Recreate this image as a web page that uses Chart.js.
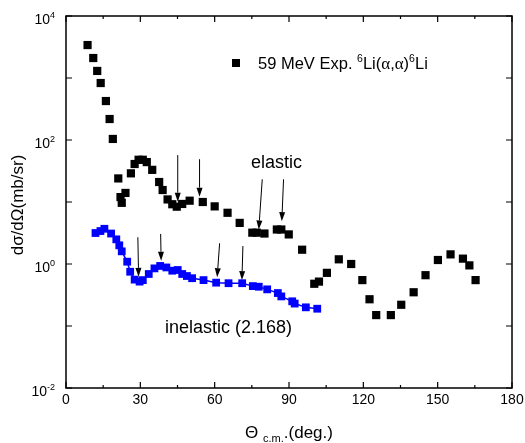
<!DOCTYPE html>
<html>
<head>
<meta charset="utf-8">
<script src="https://cdn.jsdelivr.net/npm/chart.js@4.4.1/dist/chart.umd.min.js"></script>
<style>
  html, body { margin: 0; padding: 0; background: #fff; }
  #wrap { width: 525px; height: 443px; }
</style>
</head>
<body>
<div id="wrap"><canvas id="xsChart" width="525" height="443"></canvas></div>
<script>
// elastic 59 MeV 6Li(a,a)6Li
const angleEl = [8.7, 11.0, 12.6, 14.0, 16.1, 17.6, 18.9, 21.1, 22.0, 22.5, 24.0, 26.2, 27.7, 29.3, 31.0, 32.6,
  34.8, 37.6, 39.0, 41.0, 42.9, 44.7, 46.9, 49.9, 55.2, 60.0, 65.2, 70.1, 75.2, 77.0, 80.1, 85.1, 86.9, 89.9,
  95.3, 100.2, 102.1, 105.3, 110.1, 115.1, 119.6, 122.5, 125.2, 131.1, 135.3, 140.3, 145.1, 150.1, 155.2,
  160.2, 162.8, 165.3];
const sigmaEl = [3400, 2100, 1300, 830, 425, 218, 104, 24, 12, 9.7, 14, 29, 41, 48, 48, 44,
  33, 21, 15.6, 11, 9.2, 8.4, 9.3, 10.5, 10, 8.5, 6.7, 4.6, 3.2, 3.2, 3.1, 3.6, 3.6, 3.0,
  1.7, 0.48, 0.52, 0.72, 1.19, 1.0, 0.55, 0.27, 0.15, 0.15, 0.22, 0.35, 0.66, 1.16, 1.43,
  1.22, 0.95, 0.55];

// inelastic (2.168)
const angleIn = [11.9, 13.9, 15.5, 18.2, 20.3, 21.5, 22.5, 24.7, 25.9, 27.7, 29.7, 31.0, 33.4, 35.7, 38.0,
  40.5, 42.9, 45.1, 46.9, 48.8, 50.9, 55.5, 60.6, 65.6, 71.1, 75.4, 77.8, 81.2, 85.5, 86.9, 91.3, 92.3,
  96.8, 101.4];
const sigmaIn = [3.16, 3.4, 3.7, 3.1, 2.5, 2.0, 1.6, 1.09, 0.75, 0.56, 0.52, 0.55, 0.69, 0.85, 0.93,
  0.88, 0.78, 0.80, 0.69, 0.64, 0.59, 0.55, 0.50, 0.49, 0.49, 0.44, 0.43, 0.39, 0.34, 0.30, 0.25, 0.23,
  0.20, 0.19];

// arrows (angle at top / bottom, value at top / bottom)
const arrowTopAngle = [45.1, 53.9, 79.2, 87.8, 29.0, 38.2, 62.0, 71.4];
const arrowTipAngle = [45.1, 53.9, 77.8, 87.1, 29.3, 38.4, 61.0, 71.0];
const arrowTopValue = [57, 49, 23.2, 23.2, 2.7, 3.05, 2.16, 1.95];
const arrowTipValue = [10.1, 12.2, 3.6, 4.9, 0.62, 1.13, 0.61, 0.55];

const xTicks = [0, 30, 60, 90, 120, 150, 180];
const yExponents = [-2, 0, 2, 4];

const FONT = 'Arial, "Liberation Sans", sans-serif';
const SERIF = '"Liberation Serif", "Times New Roman", serif';

function toPoints(xs, ys) {
  return xs.map((x, i) => ({ x: x, y: ys[i] }));
}

function drawSup(ctx, base, sup, x, y, size, align) {
  ctx.font = size + 'px ' + FONT;
  const wb = ctx.measureText(base).width;
  ctx.font = Math.round(size * 0.65) + 'px ' + FONT;
  const ws = ctx.measureText(sup).width;
  let start = x;
  if (align === 'right') start = x - wb - ws;
  if (align === 'center') start = x - (wb + ws) / 2;
  ctx.textAlign = 'left';
  ctx.textBaseline = 'alphabetic';
  ctx.font = size + 'px ' + FONT;
  ctx.fillText(base, start, y);
  ctx.font = Math.round(size * 0.65) + 'px ' + FONT;
  ctx.fillText(sup, start + wb, y - size * 0.4);
}

// draws a run of [text, size, dy, family] pieces from x
function drawRun(ctx, parts, x, y) {
  ctx.textAlign = 'left';
  ctx.textBaseline = 'alphabetic';
  parts.forEach(p => {
    ctx.font = p[1] + 'px ' + (p[3] || FONT);
    ctx.fillText(p[0], x, y + p[2]);
    x += ctx.measureText(p[0]).width;
  });
  return x;
}

function runWidth(ctx, parts) {
  let w = 0;
  parts.forEach(p => { ctx.font = p[1] + 'px ' + (p[3] || FONT); w += ctx.measureText(p[0]).width; });
  return w;
}

const decor = {
  id: 'decor',
  afterDraw(chart) {
    const ctx = chart.ctx;
    const a = chart.chartArea;
    const xs = chart.scales.x, ys = chart.scales.y;
    ctx.save();
    ctx.strokeStyle = '#000';
    ctx.fillStyle = '#000';

    // frame
    ctx.lineWidth = 1.5;
    ctx.strokeRect(a.left, a.top, a.right - a.left, a.bottom - a.top);

    // x ticks (inward, bottom and top)
    ctx.lineWidth = 1.2;
    for (let v = 0; v <= 180; v += 15) {
      const px = xs.getPixelForValue(v);
      const len = v % 30 === 0 ? 6 : 3;
      ctx.beginPath();
      ctx.moveTo(px, a.bottom); ctx.lineTo(px, a.bottom - len);
      ctx.moveTo(px, a.top); ctx.lineTo(px, a.top + len);
      ctx.stroke();
    }
    // y ticks (each decade)
    for (let e = -2; e <= 4; e++) {
      const py = ys.getPixelForValue(Math.pow(10, e));
      ctx.beginPath();
      ctx.moveTo(a.left, py); ctx.lineTo(a.left + 6, py);
      ctx.moveTo(a.right, py); ctx.lineTo(a.right - 6, py);
      ctx.stroke();
    }

    // tick labels
    ctx.font = '14px ' + FONT;
    ctx.textAlign = 'center';
    ctx.textBaseline = 'middle';
    xTicks.forEach(v => ctx.fillText(String(v), xs.getPixelForValue(v), a.bottom + 12));
    yExponents.forEach(e => {
      const py = ys.getPixelForValue(Math.pow(10, e));
      drawSup(ctx, '10', String(e), a.left - 11, py + 8, 14, 'right');
    });

    // y title
    ctx.save();
    ctx.translate(18, 205);
    ctx.rotate(-Math.PI / 2);
    ctx.font = '17px ' + FONT;
    ctx.textAlign = 'center';
    ctx.textBaseline = 'middle';
    ctx.fillText('d\u03c3/d\u03a9(mb/sr)', 0, 0);
    ctx.restore();

    // x title: Θ c.m..(deg.)
    {
      const parts = [['\u0398 ', 17, 0], ['c.m.', 11, 4], ['.(deg.)', 17, 0]];
      const w = runWidth(ctx, parts);
      drawRun(ctx, parts, (a.left + a.right) / 2 - w / 2, 438);
    }

    // legend
    ctx.fillRect(232, 59, 8, 8);
    drawRun(ctx, [
      ['59 MeV Exp. ', 16.5, 0], ['6', 10.5, -7], ['Li(', 16.5, 0], ['\u03b1', 17, 0, SERIF],
      [',', 16.5, 0], ['\u03b1', 17, 0, SERIF], [')', 16.5, 0], ['6', 10.5, -7], ['Li', 16.5, 0]
    ], 258, 69);

    // curve labels
    ctx.font = '18px ' + FONT;
    ctx.textAlign = 'left';
    ctx.textBaseline = 'middle';
    ctx.fillText('elastic', 251, 163);
    ctx.fillText('inelastic (2.168)', 165, 328);

    // arrows
    ctx.lineWidth = 1;
    arrowTopAngle.forEach((t, i) => {
      const x1 = xs.getPixelForValue(t), y1 = ys.getPixelForValue(arrowTopValue[i]);
      const x2 = xs.getPixelForValue(arrowTipAngle[i]), y2 = ys.getPixelForValue(arrowTipValue[i]);
      const ang = Math.atan2(y2 - y1, x2 - x1);
      const hl = 9, hw = 3;
      const bx = x2 - hl * Math.cos(ang), by = y2 - hl * Math.sin(ang);
      ctx.beginPath();
      ctx.moveTo(x1, y1); ctx.lineTo(bx, by);
      ctx.stroke();
      ctx.beginPath();
      ctx.moveTo(x2, y2);
      ctx.lineTo(bx + hw * Math.sin(ang), by - hw * Math.cos(ang));
      ctx.lineTo(bx - hw * Math.sin(ang), by + hw * Math.cos(ang));
      ctx.closePath();
      ctx.fill();
    });

    ctx.restore();
  }
};

const ctx = document.getElementById('xsChart').getContext('2d');
new Chart(ctx, {
  type: 'scatter',
  data: {
    datasets: [
      {
        label: 'inelastic (2.168)',
        data: toPoints(angleIn, sigmaIn),
        showLine: true,
        borderColor: '#0000ff',
        borderWidth: 1.5,
        backgroundColor: '#0000ff',
        pointStyle: 'rect',
        pointRadius: 5.5,
        pointBorderWidth: 0,
        pointHoverRadius: 5.5
      },
      {
        label: '59 MeV Exp. 6Li(a,a)6Li',
        data: toPoints(angleEl, sigmaEl),
        backgroundColor: '#000',
        borderColor: '#000',
        pointStyle: 'rect',
        pointRadius: 5.8,
        pointBorderWidth: 0,
        pointHoverRadius: 5.8
      }
    ]
  },
  options: {
    responsive: false,
    animation: false,
    layout: { padding: { top: 16, right: 13, left: 0, bottom: 0 } },
    plugins: { legend: { display: false }, tooltip: { enabled: false } },
    scales: {
      x: {
        type: 'linear', min: 0, max: 180,
        ticks: { display: false }, grid: { display: false }, border: { display: false },
        afterFit: s => { s.height = 55; }
      },
      y: {
        type: 'logarithmic', min: 0.01, max: 10000,
        ticks: { display: false }, grid: { display: false }, border: { display: false },
        afterFit: s => { s.width = 66; }
      }
    }
  },
  plugins: [decor]
});
</script>
</body>
</html>
